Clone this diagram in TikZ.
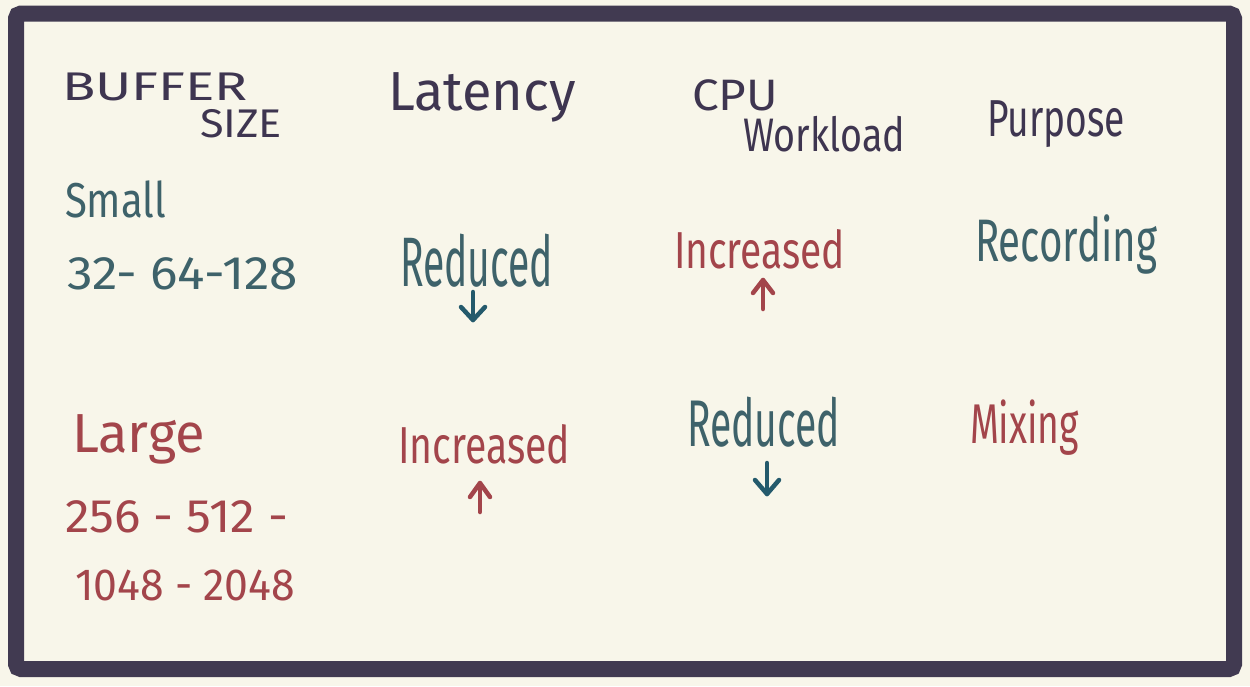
\documentclass[tikz,border=0pt]{standalone}
\usepackage{fontspec}
\usepackage{graphicx}
\usetikzlibrary{calc}
\setmainfont{Fira Sans}
\definecolor{bgc}{HTML}{F8F6EA}
\definecolor{framec}{HTML}{413A51}
\definecolor{headc}{HTML}{3E3550}
\definecolor{tealc}{HTML}{3E626A}
\definecolor{redc}{HTML}{A3454B}
\definecolor{arrc}{HTML}{245A6C}
\newcommand\fitw[3]{\resizebox{#1pt}{\height}{\fontsize{#2}{#2}\selectfont #3}}
\tikzset{
  lbl/.style={anchor=base west, inner sep=0pt, outer sep=0pt},
  head/.style={lbl, text=headc},
  tealtxt/.style={lbl, text=tealc},
  redtxt/.style={lbl, text=redc},
  arrline/.style={line width=4.5pt, line cap=round, line join=round},
}
\begin{document}
\begin{tikzpicture}[x=1pt, y=-1pt]
\useasboundingbox (0,0) rectangle (1250,686);
\fill[bgc] (0,0) rectangle (1250,686);
\draw[framec, line width=16pt, rounded corners=5pt] (16,13.5) rectangle (1234,669);
% headers
\node[head] (hbuf) at (62,100) {\fitw{186}{40}{BUFFER}};
\node[head] (hsize) at (200,137) {\fitw{82}{40}{SIZE}};
\node[head] (hlat) at (388,110) {\fitw{188}{55}{Latency}};
\node[head] (hcpu) at (692,110) {\fitw{86}{44}{CPU}};
\node[head] (hwork) at (743,151) {\fitw{162}{47}{Workload}};
\node[head] (hpur) at (987,136) {\fitw{138}{52}{Purpose}};
% small row
\node[tealtxt] (small) at (65,217) {\fitw{101}{49}{Small}};
\node[tealtxt] (smallv) at (67,289) {\fitw{231}{47}{32- 64-128}};
\node[tealtxt] (red1) at (400,286) {\fitw{153}{70}{Reduced}};
\node[redtxt] (inc1) at (674,268) {\fitw{171}{52}{Increased}};
\node[tealtxt] (rec) at (975,261) {\fitw{182}{60}{Recording}};
% large row
\node[redtxt] (large) at (72,452) {\fitw{133}{55}{Large}};
\node[redtxt] (largev1) at (65,532) {\fitw{223}{47}{256 - 512 -}};
\node[redtxt] (largev2) at (75,600) {\fitw{220}{45}{1048 - 2048}};
\node[redtxt] (inc2) at (398,463) {\fitw{172}{52}{Increased}};
\node[tealtxt] (red2) at (687,446) {\fitw{153}{66}{Reduced}};
\node[redtxt] (mix) at (970,443) {\fitw{109}{56}{Mixing}};
% arrows
\coordinate (a1t) at (473,292); \coordinate (a1b) at (473,320);
\draw[arrline, arrc] (a1t) -- (a1b);
\draw[arrline, arrc] ($(a1b)+(-12,-13)$) -- (a1b) -- ($(a1b)+(12,-13)$);
\coordinate (a2t) at (763,280); \coordinate (a2b) at (763,309);
\draw[arrline, redc] (a2b) -- (a2t);
\draw[arrline, redc] ($(a2t)+(-10,13)$) -- (a2t) -- ($(a2t)+(10,13)$);
\coordinate (a3t) at (480,483); \coordinate (a3b) at (480,512);
\draw[arrline, redc] (a3b) -- (a3t);
\draw[arrline, redc] ($(a3t)+(-10,14)$) -- (a3t) -- ($(a3t)+(10,14)$);
\coordinate (a4t) at (767,463); \coordinate (a4b) at (767,494);
\draw[arrline, arrc] (a4t) -- (a4b);
\draw[arrline, arrc] ($(a4b)+(-12,-14)$) -- (a4b) -- ($(a4b)+(12,-14)$);
\end{tikzpicture}
\end{document}
